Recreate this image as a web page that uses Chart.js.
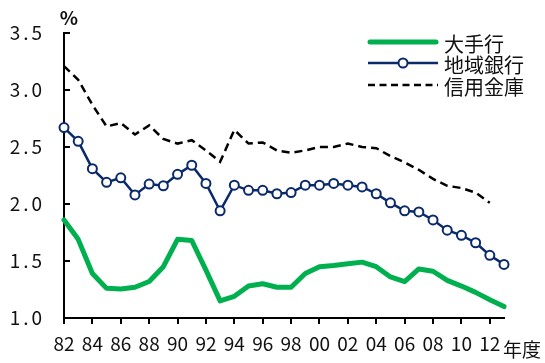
<!DOCTYPE html>
<html lang="ja">
<head>
<meta charset="utf-8">
<script src="https://cdn.jsdelivr.net/npm/chart.js@4/dist/chart.umd.min.js"></script>
<style>
  html, body { margin: 0; padding: 0; background: #fff; }
  #wrap { width: 545px; height: 363px; position: relative; }
</style>
</head>
<body>
<div id="wrap"><canvas id="c" width="545" height="363"></canvas></div>
<script>
// 年度（1982〜2013）
const years = ['82','83','84','85','86','87','88','89','90','91','92','93','94','95','96','97',
               '98','99','00','01','02','03','04','05','06','07','08','09','10','11','12','13'];

// 大手行
const majorBanks = [1.86,1.69,1.39,1.26,1.255,1.27,1.32,1.45,1.69,1.68,1.42,1.15,1.19,1.28,1.30,1.27,
                    1.27,1.39,1.45,1.46,1.475,1.49,1.45,1.36,1.32,1.43,1.41,1.33,1.28,1.225,1.16,1.10];
// 地域銀行
const regionalBanks = [2.67,2.55,2.31,2.19,2.23,2.08,2.175,2.16,2.26,2.34,2.18,1.94,2.165,2.12,2.12,2.09,
                       2.10,2.165,2.165,2.18,2.165,2.15,2.09,2.01,1.94,1.93,1.86,1.77,1.725,1.66,1.55,1.47];
// 信用金庫
const shinkinBanks = [3.21,3.09,2.87,2.68,2.71,2.61,2.69,2.57,2.53,2.56,2.47,2.37,2.65,2.53,2.54,2.47,
                      2.45,2.47,2.50,2.50,2.53,2.50,2.49,2.42,2.365,2.30,2.22,2.16,2.14,2.10,2.01,null];

const seriesNames = ['大手行', '地域銀行', '信用金庫'];
const yTicks = [1.0, 1.5, 2.0, 2.5, 3.0, 3.5];
const yUnit = '%';
const xUnit = '年度';

const FONT = '"Noto Sans CJK JP", "Noto Sans", sans-serif';
const GREEN = '#00B04F';
const NAVY = '#0B2A6B';

Chart.defaults.font.family = FONT;
Chart.defaults.color = '#111';

// 目盛り線・単位・凡例
const decorations = {
  id: 'decorations',
  beforeDraw(chart) {
    // 縦軸ラベルは字間を広げて描く
    const y = chart.scales.y;
    if (!y._spaced) {
      const orig = y.drawLabels.bind(y);
      y.drawLabels = function (area) {
        const ctx = this.ctx;
        const prev = ctx.letterSpacing;
        ctx.letterSpacing = '3px';
        orig(area);
        ctx.letterSpacing = prev || '0px';
      };
      y._spaced = true;
    }
  },
  afterDraw(chart) {
    const { ctx, scales: { x, y }, chartArea } = chart;
    ctx.save();
    ctx.strokeStyle = '#000';
    ctx.lineWidth = 2;
    ctx.beginPath();
    years.forEach((yr, i) => {
      if (i % 2 === 0 && i < years.length - 1) {
        const px = Math.round(x.getPixelForValue(i));
        ctx.moveTo(px, chartArea.bottom);
        ctx.lineTo(px, chartArea.bottom + 6);
      }
    });
    yTicks.forEach(v => {
      const py = Math.round(y.getPixelForValue(v));
      ctx.moveTo(chartArea.left, py);
      ctx.lineTo(chartArea.left + 6, py);
    });
    ctx.stroke();

    // 単位
    ctx.fillStyle = '#111';
    ctx.font = 'bold 19px ' + FONT;
    ctx.textAlign = 'center';
    ctx.textBaseline = 'middle';
    ctx.fillText(yUnit, chartArea.left + 5, 18);
    ctx.font = '19px ' + FONT;
    ctx.textAlign = 'left';
    ctx.fillText(xUnit, chartArea.right - 1, 350);

    // 凡例
    const lx0 = 368, lx1 = 438, tx = 444;
    const rows = [42, 63, 85];
    ctx.lineCap = 'round';
    ctx.strokeStyle = GREEN; ctx.lineWidth = 5;
    ctx.beginPath(); ctx.moveTo(lx0 + 2, rows[0]); ctx.lineTo(lx1 - 2, rows[0]); ctx.stroke();
    ctx.lineCap = 'butt';
    ctx.strokeStyle = NAVY; ctx.lineWidth = 2.5;
    ctx.beginPath(); ctx.moveTo(lx0, rows[1]); ctx.lineTo(lx1, rows[1]); ctx.stroke();
    ctx.fillStyle = '#fff'; ctx.lineWidth = 2;
    ctx.beginPath(); ctx.arc((lx0 + lx1) / 2, rows[1], 4.5, 0, Math.PI * 2); ctx.fill(); ctx.stroke();
    ctx.strokeStyle = '#000'; ctx.lineWidth = 2.5; ctx.setLineDash([7, 4.5]);
    ctx.beginPath(); ctx.moveTo(lx0, rows[2]); ctx.lineTo(lx1, rows[2]); ctx.stroke();
    ctx.setLineDash([]);
    ctx.fillStyle = '#111';
    ctx.font = '20px ' + FONT;
    ctx.textBaseline = 'middle';
    seriesNames.forEach((n, i) => ctx.fillText(n, tx, rows[i] + 2));
    ctx.restore();
  }
};

new Chart(document.getElementById('c'), {
  type: 'line',
  data: {
    labels: years,
    datasets: [
      {
        label: seriesNames[0], data: majorBanks,
        borderColor: GREEN, borderWidth: 5, pointRadius: 0,
        tension: 0, borderJoinStyle: 'round', borderCapStyle: 'round', clip: false
      },
      {
        label: seriesNames[1], data: regionalBanks,
        borderColor: NAVY, borderWidth: 2.5, tension: 0,
        pointRadius: 4.5, pointBorderWidth: 2, pointBackgroundColor: '#fff',
        pointBorderColor: NAVY, clip: false
      },
      {
        label: seriesNames[2], data: shinkinBanks,
        borderColor: '#000', borderWidth: 2.5, borderDash: [8, 5], pointRadius: 0,
        tension: 0, spanGaps: false, clip: false
      }
    ]
  },
  options: {
    responsive: false,
    animation: false,
    events: [],
    layout: { padding: { top: 33, right: 41, left: 0, bottom: 0 } },
    plugins: { legend: { display: false }, tooltip: { enabled: false } },
    scales: {
      x: {
        type: 'category',
        offset: false,
        grid: { display: false, drawTicks: false },
        border: { display: true, color: '#000', width: 2 },
        ticks: {
          autoSkip: false, maxRotation: 0, padding: 14,
          font: { size: 19 }, color: '#111',
          callback: (v, i) => (i % 2 === 0 && i < years.length - 1) ? years[i] : ''
        },
        afterFit: s => { s.height = 45; }
      },
      y: {
        min: 1.0, max: 3.5,
        afterBuildTicks: s => { s.ticks = yTicks.map(v => ({ value: v })); },
        grid: { display: false, drawTicks: false },
        border: { display: true, color: '#000', width: 2 },
        ticks: {
          padding: 19, font: { size: 19 }, color: '#111',
          callback: v => v.toFixed(1)
        },
        afterFit: s => { s.width = 64; }
      }
    }
  },
  plugins: [decorations]
});
</script>
</body>
</html>
